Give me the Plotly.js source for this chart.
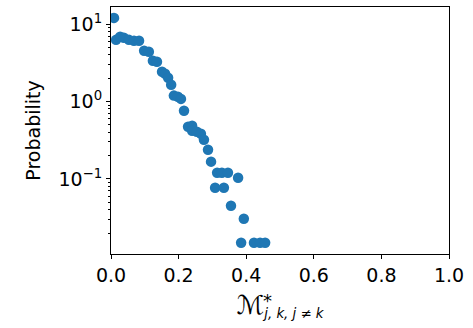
<!DOCTYPE html>
<html><head><meta charset="utf-8">
<script src="https://cdn.plot.ly/plotly-3.0.1.min.js"></script>
<style>html,body{margin:0;padding:0;background:#fff}</style>
</head><body><div id="chart" style="width:473px;height:328px"></div>
<script>
var xValues = [0.009,0.015,0.027,0.038,0.053,0.068,0.083,0.098,0.112,0.124,0.136,0.151,0.160,0.169,0.178,0.186,0.198,0.207,0.216,0.228,0.240,0.240,0.254,0.266,0.275,0.287,0.296,0.314,0.328,0.346,0.376,0.308,0.334,0.355,0.393,0.385,0.423,0.441,0.456];
var probValues = [12.0,6.25,6.84,6.64,6.25,6.07,6.07,4.51,4.38,3.35,3.25,2.42,2.28,2.02,1.64,1.19,1.15,1.08,0.759,0.472,0.486,0.419,0.406,0.383,0.321,0.238,0.167,0.120,0.120,0.120,0.1036,0.0769,0.0769,0.0451,0.0306,0.0150,0.0150,0.0150,0.0150];
var xTickVals = [0,0.2,0.4,0.6,0.8,1.0];
var xTickText = ['0.0','0.2','0.4','0.6','0.8','1.0'];
var yTickVals = [0.1,1,10];
var yTickText = ['10<sup>−1</sup>','10<sup>0</sup>','10<sup>1</sup>'];

var fnt = {family:'DejaVu Sans', size:19, color:'#000'};
var trace = {x:xValues, y:probValues, type:'scatter', mode:'markers',
  marker:{color:'#1f77b4', size:10.5, line:{width:0}}, hoverinfo:'skip'};
var layout = {
  width:473, height:328, margin:{l:111,r:24,t:7,b:74},
  paper_bgcolor:'#fff', plot_bgcolor:'#fff', showlegend:false,
  font:fnt,
  xaxis:{range:[0,1], tickvals:xTickVals, ticktext:xTickText, ticks:'outside', ticklen:4, tickwidth:1,
    tickcolor:'#000', showline:true, linecolor:'#000', linewidth:1, mirror:true, showgrid:false, zeroline:false,
    tickfont:fnt, title:{text:'<span style="font-size:26px">ℳ</span><sub><i>j, k, j ≠ k</i></sub>', font:{family:'DejaVu Sans', size:19}, standoff:15}},
  yaxis:{type:'log', range:[-1.97,1.22], tickvals:yTickVals, ticktext:yTickText, ticks:'outside', ticklen:4, tickwidth:1,
    tickcolor:'#000', showline:true, linecolor:'#000', linewidth:1, mirror:true, showgrid:false, zeroline:false,
    tickfont:fnt, minor:{ticks:'outside', ticklen:2.5, tickcolor:'#000', dtick:'D1', showgrid:false},
    title:{text:'Probability', font:fnt, standoff:12}},
  annotations:[{text:'*', x:0.445, y:-0.19, xref:'paper', yref:'paper', showarrow:false,
    font:{family:'DejaVu Sans', size:18, color:'#000'}, xanchor:'left', yanchor:'middle'}]
};
Plotly.newPlot('chart',[trace],layout,{staticPlot:true});
</script></body></html>
